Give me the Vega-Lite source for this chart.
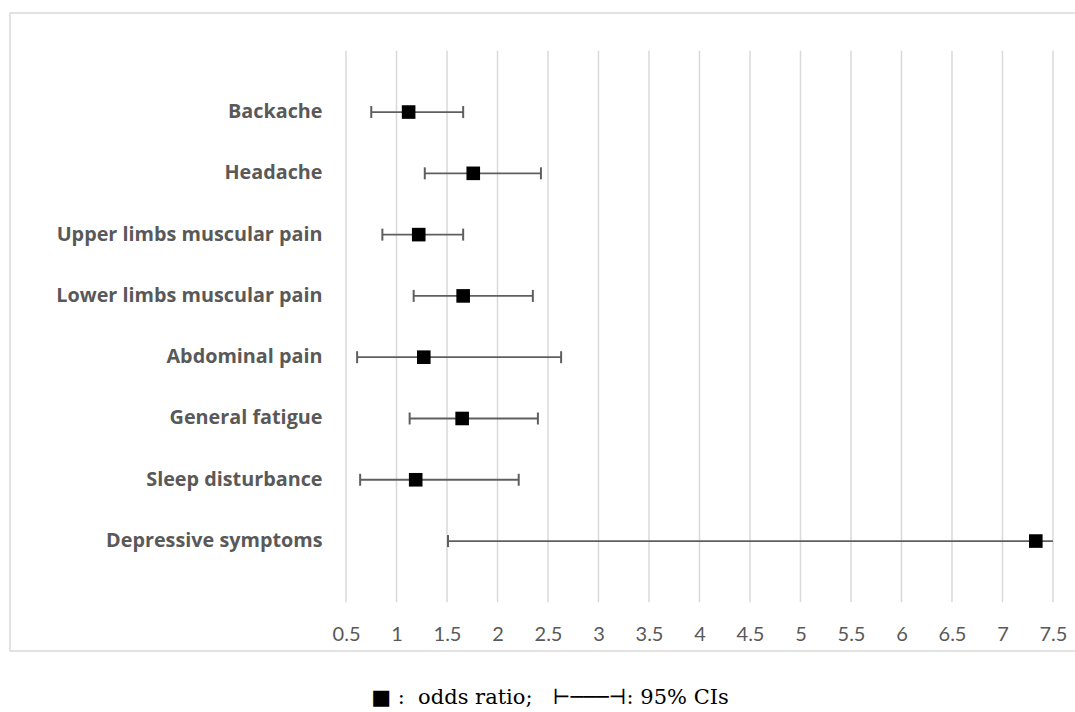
{
  "$schema": "https://vega.github.io/schema/vega-lite/v6.json",
  "width": 1066,
  "height": 638,
  "autosize": {"type": "none"},
  "padding": {"left": 10, "top": 13, "right": 0, "bottom": 61},
  "background": "white",
  "title": {
    "text": "■ :\u00a0\u00a0odds ratio;\u00a0\u00a0\u00a0⊢───⊣: 95% CIs",
    "orient": "bottom",
    "anchor": "middle",
    "offset": 36,
    "dx": 7,
    "font": "DejaVu Serif",
    "fontSize": 21,
    "fontWeight": "normal",
    "color": "black"
  },
  "datasets": {
    "or": [
      {"outcome": "Backache", "or": 1.12, "lo": 0.75, "hi": 1.66},
      {"outcome": "Headache", "or": 1.76, "lo": 1.28, "hi": 2.43},
      {"outcome": "Upper limbs muscular pain", "or": 1.22, "lo": 0.86, "hi": 1.66},
      {"outcome": "Lower limbs muscular pain", "or": 1.66, "lo": 1.17, "hi": 2.35},
      {"outcome": "Abdominal pain", "or": 1.27, "lo": 0.61, "hi": 2.63},
      {"outcome": "General fatigue", "or": 1.65, "lo": 1.13, "hi": 2.40},
      {"outcome": "Sleep disturbance", "or": 1.19, "lo": 0.64, "hi": 2.21},
      {"outcome": "Depressive symptoms", "or": 7.33, "lo": 1.51, "hi": 7.5}
    ],
    "grid": [
      {"g": 0.5, "top": "Backache", "bottom": "Depressive symptoms"},
      {"g": 1.0, "top": "Backache", "bottom": "Depressive symptoms"},
      {"g": 1.5, "top": "Backache", "bottom": "Depressive symptoms"},
      {"g": 2.0, "top": "Backache", "bottom": "Depressive symptoms"},
      {"g": 2.5, "top": "Backache", "bottom": "Depressive symptoms"},
      {"g": 3.0, "top": "Backache", "bottom": "Depressive symptoms"},
      {"g": 3.5, "top": "Backache", "bottom": "Depressive symptoms"},
      {"g": 4.0, "top": "Backache", "bottom": "Depressive symptoms"},
      {"g": 4.5, "top": "Backache", "bottom": "Depressive symptoms"},
      {"g": 5.0, "top": "Backache", "bottom": "Depressive symptoms"},
      {"g": 5.5, "top": "Backache", "bottom": "Depressive symptoms"},
      {"g": 6.0, "top": "Backache", "bottom": "Depressive symptoms"},
      {"g": 6.5, "top": "Backache", "bottom": "Depressive symptoms"},
      {"g": 7.0, "top": "Backache", "bottom": "Depressive symptoms"},
      {"g": 7.5, "top": "Backache", "bottom": "Depressive symptoms"}
    ]
  },
  "encoding": {
    "x": {
      "type": "quantitative",
      "scale": {"domain": [-2.827, 7.728], "nice": false, "zero": false},
      "axis": {
        "values": [0.5, 1, 1.5, 2, 2.5, 3, 3.5, 4, 4.5, 5, 5.5, 6, 6.5, 7, 7.5],
        "labelExpr": "'' + datum.value",
        "grid": false,
        "ticks": false,
        "tickSize": 0,
        "domain": false,
        "offset": -27,
        "labelPadding": 0,
        "labelFont": "Lato",
        "labelFontSize": 20,
        "labelColor": "#595959",
        "title": null
      }
    },
    "y": {
      "type": "nominal",
      "scale": {
        "type": "band",
        "domain": ["Backache", "Headache", "Upper limbs muscular pain", "Lower limbs muscular pain", "Abdominal pain", "General fatigue", "Sleep disturbance", "Depressive symptoms"],
        "range": [68.4, 558.7],
        "paddingInner": 0,
        "paddingOuter": 0
      },
      "axis": {
        "title": null,
        "grid": false,
        "ticks": false,
        "tickSize": 0,
        "domain": false,
        "labelPadding": -312,
        "labelAlign": "right",
        "labelLimit": 0,
        "labelFont": "Open Sans",
        "labelFontSize": 19.8,
        "labelFontWeight": "bold",
        "labelColor": "#595959"
      }
    }
  },
  "layer": [
    {
      "data": {"name": "grid"},
      "mark": {"type": "rule", "color": "#d9d9d9", "strokeWidth": 1.5},
      "encoding": {
        "x": {"field": "g"},
        "y": {"field": "top", "bandPosition": -0.5},
        "y2": {"field": "bottom", "bandPosition": 1.5}
      }
    },
    {
      "data": {"name": "or"},
      "mark": {"type": "rule", "color": "#5f5f5f", "strokeWidth": 1.8},
      "encoding": {
        "x": {"field": "lo"},
        "x2": {"field": "hi"},
        "y": {"field": "outcome"}
      }
    },
    {
      "data": {"name": "or"},
      "mark": {"type": "tick", "color": "#5f5f5f", "size": 12, "thickness": 2, "opacity": 1},
      "encoding": {
        "x": {"field": "lo"},
        "y": {"field": "outcome"}
      }
    },
    {
      "data": {"name": "or"},
      "transform": [{"filter": {"field": "hi", "lt": 7.5}}],
      "mark": {"type": "tick", "color": "#5f5f5f", "size": 12, "thickness": 2, "opacity": 1},
      "encoding": {
        "x": {"field": "hi"},
        "y": {"field": "outcome"}
      }
    },
    {
      "data": {"name": "or"},
      "mark": {"type": "square", "size": 185, "color": "black", "filled": true, "opacity": 1},
      "encoding": {
        "x": {"field": "or"},
        "y": {"field": "outcome"}
      }
    }
  ],
  "config": {
    "view": {"stroke": "#d9d9d9", "strokeWidth": 1.5}
  }
}
